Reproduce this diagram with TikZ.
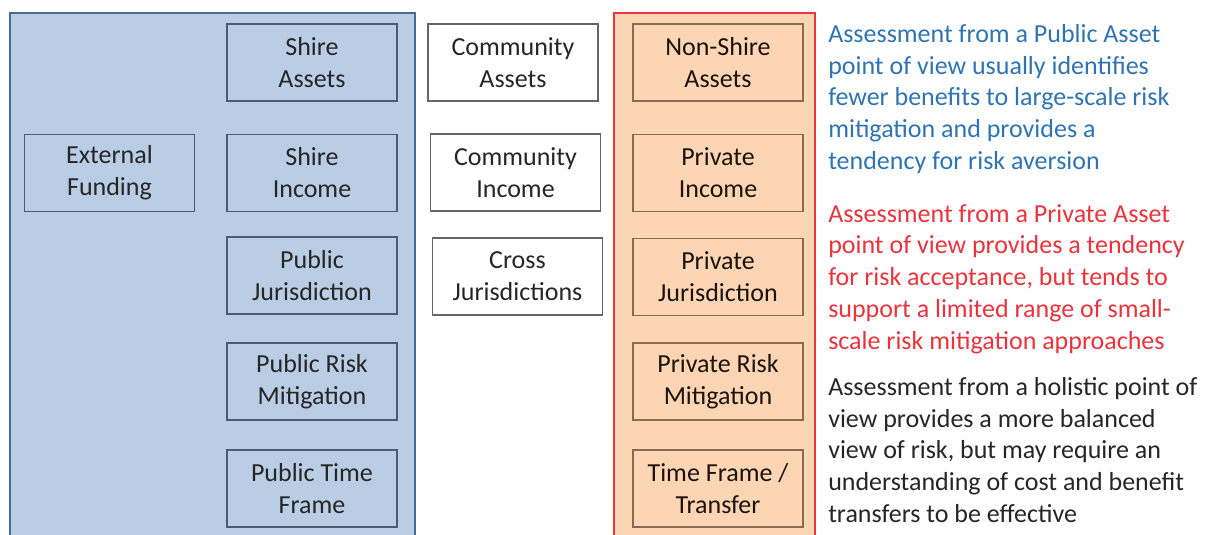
\documentclass[tikz,border=0pt]{standalone}
\usepackage{fontspec}
\setmainfont{Carlito}
\definecolor{pubfill}{HTML}{B9CDE5}
\definecolor{publine}{HTML}{4A6A94}
\definecolor{pubbox}{HTML}{4B5C72}
\definecolor{privfill}{HTML}{FCD5B5}
\definecolor{privline}{HTML}{E8383E}
\definecolor{privbox}{HTML}{8A6A52}
\definecolor{pubtext}{HTML}{2E74B5}
\definecolor{privtext}{HTML}{E8343C}
\definecolor{holtext}{HTML}{262626}
\tikzset{
	box/.style={draw, line width=1pt, minimum width=127.5pt, minimum height=57.75pt,
		align=center, inner sep=0pt, font=\fontsize{19.5}{24}\selectfont},
	pubcell/.style={box, draw=pubbox, fill=pubfill, text=black!85},
	commcell/.style={box, draw=black!60, fill=white, text=black!85},
	privcell/.style={box, draw=privbox, fill=privfill, text=black!85!brown},
	note/.style={anchor=north west, align=left, inner sep=0pt,
		font=\fontsize{19.5}{23.8}\selectfont}
}

\begin{document}
\begin{tikzpicture}[x=0.75pt,y=-0.75pt]
			%%%%% FRAME %%%%%
			\useasboundingbox (0,0) rectangle (1206,535);
			\clip (0,0) rectangle (1206,535);
			\fill[white] (0,0) rectangle (1206,535);
			
			%%%%% CONTAINERS %%%%%
			\draw[line width=1.6pt, draw=publine, fill=pubfill] (10,13) rectangle (415,560);
			\draw[line width=1.6pt, draw=privline, fill=privfill] (614,13) rectangle (815,560);
			
			%%%%% PUBLIC %%%%%
			\node[pubcell] (shireassets) at (312,62.5) {Shire\\Assets};
			\node[pubcell] (shireincome) at (312,173) {Shire\\Income};
			\node[pubcell] (pubjuris) at (312,275.5) {Public\\Jurisdiction};
			\node[pubcell] (pubrisk) at (312,381.5) {Public Risk\\Mitigation};
			\node[pubcell] (pubtime) at (312,488.5) {Public Time\\Frame};
			\node[pubcell] (extfund) at (109.5,173) {External\\Funding};
			
			%%%%% COMMUNITY %%%%%
			\node[commcell] (commassets) at (513,62.5) {Community\\Assets};
			\node[commcell] (commincome) at (515.5,172.5) {Community\\Income};
			\node[commcell] (crossjuris) at (517.5,276.5) {Cross\\Jurisdictions};
			
			%%%%% PRIVATE %%%%%
			\node[privcell] (nonshire) at (718,62.5) {Non-Shire\\Assets};
			\node[privcell] (privincome) at (718,173) {Private\\Income};
			\node[privcell] (privjuris) at (718,277) {Private\\Jurisdiction};
			\node[privcell] (privrisk) at (718,381.5) {Private Risk\\Mitigation};
			\node[privcell] (privtime) at (718,488.5) {Time Frame /\\Transfer};
			
			%%%%% NOTES %%%%%
			\node[note, text=pubtext] (pubnote) at (828,24) {Assessment from a Public Asset\\point of view usually identifies\\fewer benefits to large-scale risk\\mitigation and provides a\\tendency for risk aversion};
			\node[note, text=privtext] (privnote) at (828,204) {Assessment from a Private Asset\\point of view provides a tendency\\for risk acceptance, but tends to\\support a limited range of small-\\scale risk mitigation approaches};
			\node[note, text=holtext] (holnote) at (828,377) {Assessment from a holistic point of\\view provides a more balanced\\view of risk, but may require an\\understanding of cost and benefit\\transfers to be effective};
			
			%%%%% END %%%%%
\end{tikzpicture}
\end{document}
